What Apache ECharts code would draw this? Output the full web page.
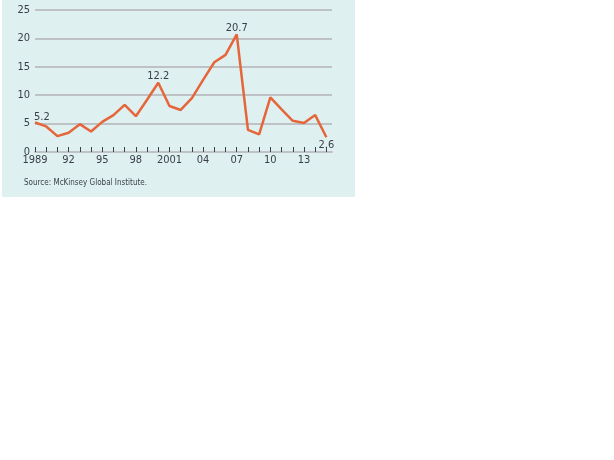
<!DOCTYPE html>
<html>
<head>
<meta charset="utf-8">
<script src="https://cdn.jsdelivr.net/npm/echarts@6/dist/echarts.min.js"></script>
<style>
html,body{margin:0;padding:0;background:#fff;}
#main{width:614px;height:460px;}
</style>
</head>
<body>
<div id="main"></div>
<script>
// 数据
var years=[1989,1990,1991,1992,1993,1994,1995,1996,1997,1998,1999,2000,2001,2002,2003,2004,2005,2006,2007,2008,2009,2010,2011,2012,2013,2014,2015];
var values=[5.2,4.5,2.8,3.4,4.9,3.6,5.3,6.5,8.3,6.3,9.2,12.2,8.1,7.4,9.5,12.7,15.8,17.1,20.7,3.9,3.1,9.6,7.5,5.5,5.1,6.5,2.6];
var xTickLabels={1989:'1989',1992:'92',1995:'95',1998:'98',2001:'2001',2004:'04',2007:'07',2010:'10',2013:'13'};
var yTicks=[0,5,10,15,20,25];
var labelled={1989:'5.2',2000:'12.2',2007:'20.7',2015:'2.6'};

var font='"Liberation Sans Narrow","DejaVu Sans Condensed",sans-serif';

var points=[];
for(var i=0;i<years.length;i++){
	var p={value:[years[i],values[i]]};
	if(labelled[years[i]]){
		p.label={show:true,formatter:labelled[years[i]]};
		if(years[i]==1989){p.label.position='top';p.label.align='left';p.label.offset=[-1,1];}
		if(years[i]==2015){p.label.position='bottom';p.label.distance=1;}
	}
	points.push(p);
}

var myChart=echarts.init(document.getElementById('main'));
var option={
	animation:false,
	graphic:[
		{type:'rect',z:-10,shape:{x:2,y:0,width:353,height:197},style:{fill:'#dff0f0'}},
		{type:'text',left:24,top:179,style:{text:'Source: McKinsey Global Institute.',font:'8px '+font,fill:'#3a3f48'}}
	],
	grid:{left:35,right:282,top:10,bottom:308},
	xAxis:{
		type:'value',min:1989,max:2015.5,interval:1,
		axisLine:{show:true,lineStyle:{color:'#bfc2c4',width:2}},
		axisTick:{show:true,inside:true,length:5,customValues:years,lineStyle:{color:'#3a3f48',width:1}},
		axisLabel:{customValues:years.filter(function(y){return xTickLabels[y];}),formatter:function(v){return xTickLabels[v]||'';},
			margin:3,fontSize:11,color:'#3a3f48',fontFamily:font},
		splitLine:{show:false}
	},
	yAxis:{
		type:'value',min:0,max:25,interval:5,
		axisLine:{show:false},axisTick:{show:false},
		axisLabel:{margin:5,fontSize:11,color:'#3a3f48',fontFamily:font,
			customValues:yTicks},
		splitLine:{lineStyle:{color:'#bfc2c4',width:2}}
	},
	series:[{
		type:'line',
		data:points,
		symbol:'circle',
		symbolSize:2,
		showSymbol:true,
		showAllSymbol:true,
		itemStyle:{color:'rgba(228,102,58,0)'},
		lineStyle:{color:'#e4663a',width:2.5},
		label:{show:false,position:'top',distance:0,fontSize:11,color:'#3a3f48',fontFamily:font}
	}]
};
myChart.setOption(option);
</script>
</body>
</html>
